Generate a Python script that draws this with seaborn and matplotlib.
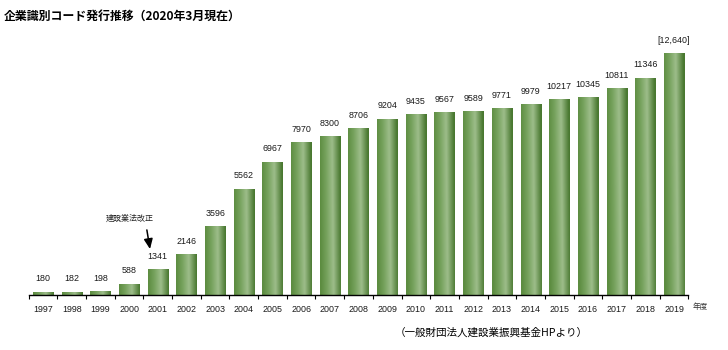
import numpy as np
import pandas as pd
import matplotlib
matplotlib.use("Agg")
import matplotlib.pyplot as plt
import seaborn as sns
from matplotlib.colors import LinearSegmentedColormap

years = ["1997", "1998", "1999", "2000", "2001", "2002", "2003", "2004", "2005", "2006",
         "2007", "2008", "2009", "2010", "2011", "2012", "2013", "2014", "2015", "2016",
         "2017", "2018", "2019"]
values = [180, 182, 198, 588, 1341, 2146, 3596, 5562, 6967, 7970,
          8300, 8706, 9204, 9435, 9567, 9589, 9771, 9979, 10217, 10345,
          10811, 11346, 12640]
value_labels = [str(v) for v in values[:-1]] + ["[12,640]"]

title = "企業識別コード発行推移（2020年3月現在）"
note = "建設業法改正"
source = "（一般財団法人建設業振興基金HPより）"
unit = "年度"

sns.set_theme(style="white")
plt.rcParams["font.family"] = ["Noto Sans CJK JP", "DejaVu Sans"]

df = pd.DataFrame({"year": years, "value": values})

fig = plt.figure(figsize=(7.28, 3.5), dpi=100)
ax = fig.add_axes([28.7 / 728, 55 / 350, 659.6 / 728, 268 / 350])
sns.barplot(data=df, x="year", y="value", ax=ax, width=0.70, color="#6f9a55",
            saturation=1, edgecolor="none")
ax.set_xlim(-0.5, len(years) - 0.5)
ax.set_ylim(0, 14000)

cmap = LinearSegmentedColormap.from_list(
    "g", [(0.0, "#5c8c40"), (0.3, "#76a25d"), (0.62, "#9dbd8a"), (1.0, "#497830")])

for p in ax.patches:
    x0, y0 = p.get_x(), p.get_y()
    w, h = p.get_width(), p.get_height()
    nx, ny = 40, 60
    u = np.linspace(0, 1, nx)[None, :]
    v = np.linspace(0, 1, ny)[:, None]
    t = np.clip(u + 0.12 * (v - 0.5) * (h / 12640), 0, 1)
    p.set_facecolor("none")
    im = ax.imshow(t, cmap=cmap, vmin=0, vmax=1, aspect="auto",
                   extent=(x0, x0 + w, y0, y0 + h), origin="lower",
                   interpolation="bilinear", zorder=2)
    im.set_clip_path(p)

for i, (v, lab) in enumerate(zip(values, value_labels)):
    ax.annotate(lab, (i, v), xytext=(0, 6.0), textcoords="offset points",
                ha="center", va="bottom", fontsize=6.4,
                family=["Liberation Sans", "DejaVu Sans"], color="#1a1a1a")

for s in ["top", "left", "right"]:
    ax.spines[s].set_visible(False)
ax.spines["bottom"].set_color("black")
ax.spines["bottom"].set_linewidth(1.0)
ax.set_yticks([])
ax.set_xlabel("")
ax.set_ylabel("")
ax.set_xticks(range(len(years)))
ax.set_xticklabels(years, fontsize=6.4, family=["Liberation Sans", "DejaVu Sans"],
                   color="#1a1a1a")
ax.tick_params(axis="x", which="major", length=0, pad=7)
ax.set_xticks(np.arange(-0.5, len(years), 1.0), minor=True)
ax.tick_params(axis="x", which="minor", length=3, width=0.8, color="black",
               direction="out", bottom=True)

ax.text(3.03, 4030, note, ha="center", va="center", fontsize=5.8, color="#222222")
ax.annotate("", xy=(3.73, 2400), xytext=(3.62, 3400),
            arrowprops=dict(arrowstyle="-|>,head_width=0.22,head_length=0.5",
                            color="black", lw=1.1, shrinkA=0, shrinkB=0))

fig.text(4 / 728, 1 - 16 / 350, title, fontsize=8.6, fontweight="bold",
         ha="left", va="center", color="black")
fig.text(700 / 728, 1 - 307 / 350, unit, fontsize=5.5, ha="center", va="center",
         color="#333333")
fig.text(395 / 728, 1 - 333 / 350, source, fontsize=7.6, ha="left", va="center",
         color="black")

fig.savefig("out.png", dpi=100)
